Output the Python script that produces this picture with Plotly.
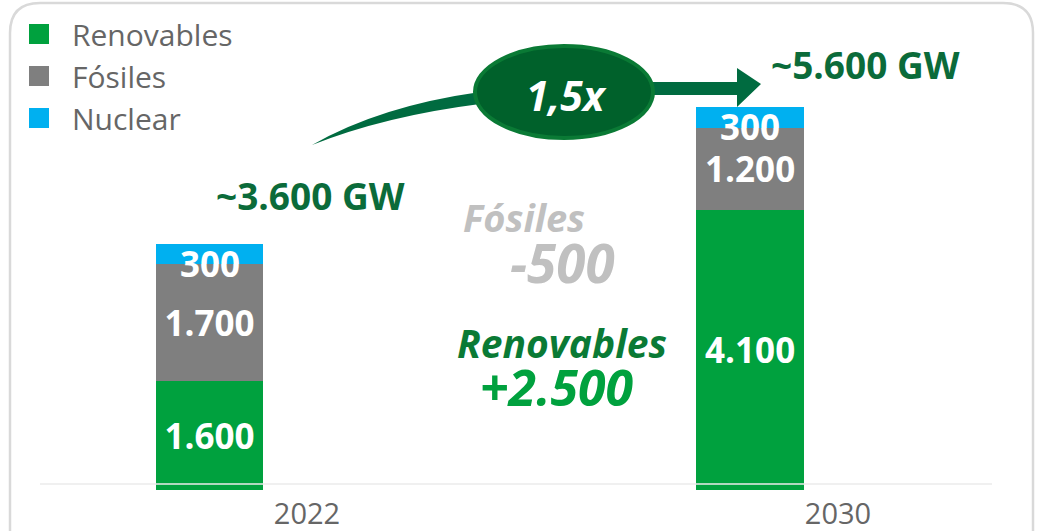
import plotly.graph_objects as go

W, H = 1038, 531

# ---- data ----
years = ["2022", "2030"]
renovables = [1600, 4100]
fosiles = [1700, 1200]
nuclear = [300, 300]
series_names = ["Renovables", "Fósiles", "Nuclear"]
total_labels = ["~3.600 GW", "~5.600 GW"]
growth_label = "1,5x"
fos_delta_title = "Fósiles"
fos_delta = "-500"
ren_delta_title = "Renovables"
ren_delta = "+2.500"

# ---- style ----
COLORS = {"Renovables": "#00A13E", "Fósiles": "#7F7F7F", "Nuclear": "#00B0F0"}
FONT = "Open Sans"
DARK_GREEN = "#0B6B3A"
ARROW_GREEN = "#006B40"

def px(x):
    return x / W

def py(y):
    return 1 - y / H

bar_offset = [-0.285, -0.267]
bar_width = 0.203

fig = go.Figure()
series_vals = [renovables, fosiles, nuclear]
for name, vals in zip(series_names, series_vals):
    fig.add_trace(go.Bar(
        x=years, y=vals, name=name,
        marker=dict(color=COLORS[name], line=dict(width=0)),
        offset=bar_offset, width=bar_width,
        texttemplate="%{y:,.0f}" if name != "Nuclear" else "",
        textposition="inside", insidetextanchor="middle",
        constraintext="none", textangle=0,
        insidetextfont=dict(family=FONT, size=35, color="white", weight=700),
        showlegend=False, hoverinfo="skip",
    ))

# legend proxies (square markers)
for name in series_names:
    fig.add_trace(go.Scatter(
        x=[None], y=[None], mode="markers", name=name,
        marker=dict(symbol="square", size=16, color=COLORS[name],
                    line=dict(color=COLORS[name], width=4)),
    ))

annotations = []
# nuclear value labels (overflowing the thin segment)
for i in range(len(years)):
    yc = renovables[i] + fosiles[i] + nuclear[i] / 2
    annotations.append(dict(
        x=i + bar_offset[i] + bar_width / 2, y=yc, xref="x", yref="y",
        text=f"{nuclear[i]:,}".replace(",", "."), showarrow=False, yshift=-9,
        font=dict(family=FONT, size=35, color="white", weight=700),
    ))

def ptext(x, y, text, size, color, italic=False, weight=700):
    annotations.append(dict(
        x=px(x), y=py(y), xref="paper", yref="paper", text=text, showarrow=False,
        xanchor="center", yanchor="middle",
        font=dict(family=FONT, size=size, color=color, weight=weight,
                  style="italic" if italic else "normal"),
    ))

ptext(310, 195, total_labels[0], 37, DARK_GREEN)
ptext(865, 64, total_labels[1], 37, DARK_GREEN)
ptext(524, 217, fos_delta_title, 38, "#C0C0C0", italic=True)
ptext(562, 262, fos_delta, 53, "#C0C0C0", italic=True)
ptext(562, 342, ren_delta_title, 39, "#0A7A35", italic=True)
ptext(556, 387, ren_delta, 50, "#00A13E", italic=True)

shapes = []
# rounded frame
r = 30
L, T, R, B = 10, 3, 1033, 560
frame = (f"M {px(L)},{py(B)} L {px(L)},{py(T + r)} "
         f"Q {px(L)},{py(T)} {px(L + r)},{py(T)} "
         f"L {px(R - r)},{py(T)} Q {px(R)},{py(T)} {px(R)},{py(T + r)} "
         f"L {px(R)},{py(B)}")
shapes.append(dict(type="path", xref="paper", yref="paper", path=frame,
                   line=dict(color="#D9D9D9", width=2.5), layer="below"))
# light baseline line drawn over bars
shapes.append(dict(type="line", xref="paper", yref="paper",
                   x0=px(40), x1=px(992), y0=py(484), y1=py(484),
                   line=dict(color="rgba(235,235,235,0.75)", width=2), layer="above"))
# curved tapered tail
tail = (f"M {px(312)},{py(145)} "
        f"Q {px(380)},{py(106)} {px(480)},{py(92)} "
        f"L {px(480)},{py(104)} "
        f"Q {px(385)},{py(116)} {px(312)},{py(145)} Z")
shapes.append(dict(type="path", xref="paper", yref="paper", path=tail,
                   fillcolor=ARROW_GREEN, line=dict(width=0), layer="above"))
# straight shaft + head
head = (f"M {px(640)},{py(82)} L {px(737)},{py(82)} L {px(737)},{py(68)} "
        f"L {px(761)},{py(84)} L {px(737)},{py(107)} L {px(737)},{py(95)} "
        f"L {px(640)},{py(95)} Z")
shapes.append(dict(type="path", xref="paper", yref="paper", path=head,
                   fillcolor=ARROW_GREEN, line=dict(width=0), layer="above"))
# ellipse
shapes.append(dict(type="circle", xref="paper", yref="paper",
                   x0=px(475), x1=px(653), y0=py(138), y1=py(46),
                   fillcolor="#00612B", line=dict(color="#0A7A35", width=4), layer="above"))

ptext(566, 95, growth_label, 41, "white", italic=True)

fig.update_layout(
    width=W, height=H,
    margin=dict(l=0, r=0, t=0, b=0),
    paper_bgcolor="white", plot_bgcolor="white",
    barmode="stack",
    separators=",.",
    font=dict(family=FONT, color="#666666"),
    showlegend=True,
    legend=dict(x=px(6), y=py(8), xanchor="left", yanchor="top",
                bgcolor="rgba(0,0,0,0)", traceorder="normal",
                font=dict(family=FONT, size=30, color="#666666"),
                itemsizing="trace", itemwidth=56),
    xaxis=dict(domain=[px(40), px(992)], range=[-0.5028, 1.29],
               type="category", categoryorder="array", categoryarray=years,
               showgrid=False, showline=False, zeroline=False, ticks="",
               ticklabelstandoff=4,
               tickfont=dict(family=FONT, size=29, color="#666666"),
               automargin=False, fixedrange=True),
    yaxis=dict(domain=[py(490), py(20)], range=[0, 470 / 0.06836],
               visible=False, showgrid=False, zeroline=False,
               automargin=False, fixedrange=True),
    annotations=annotations,
    shapes=shapes,
)

fig.write_html("out.html", config={"displayModeBar": False},
               post_script="document.body.style.margin='0px';")
